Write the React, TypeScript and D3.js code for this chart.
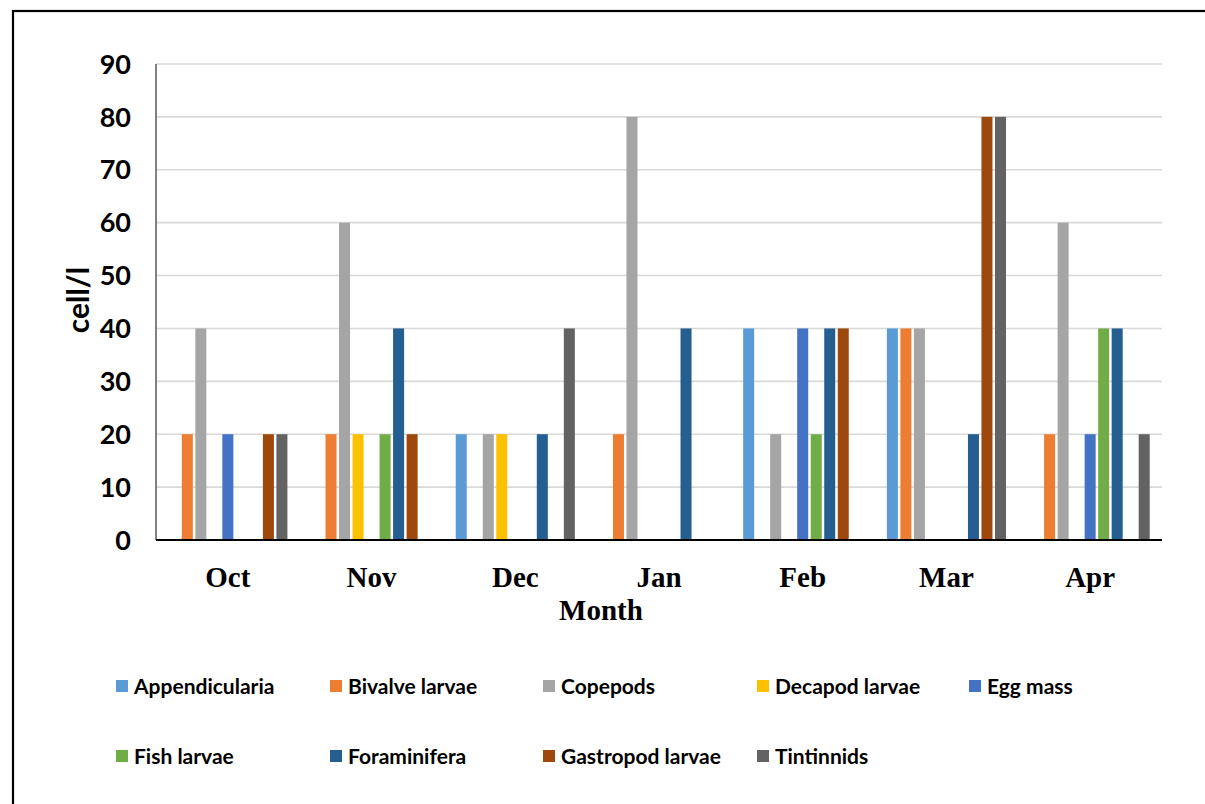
import React from "react";
import * as d3 from "d3";

const months = ["Oct", "Nov", "Dec", "Jan", "Feb", "Mar", "Apr"];
const seriesNames = [
  "Appendicularia",
  "Bivalve larvae",
  "Copepods",
  "Decapod larvae",
  "Egg mass",
  "Fish larvae",
  "Foraminifera",
  "Gastropod larvae",
  "Tintinnids",
];
const seriesColors = [
  "#5B9BD5",
  "#ED7D31",
  "#A5A5A5",
  "#FFC000",
  "#4472C4",
  "#70AD47",
  "#255E91",
  "#9E480E",
  "#636363",
];

// values per month, one array per series (cell/l)
const appendicularia = [0, 0, 20, 0, 40, 40, 0];
const bivalveLarvae = [20, 20, 0, 20, 0, 40, 20];
const copepods = [40, 60, 20, 80, 20, 40, 60];
const decapodLarvae = [0, 20, 20, 0, 0, 0, 0];
const eggMass = [20, 0, 0, 0, 40, 0, 20];
const fishLarvae = [0, 20, 0, 0, 20, 0, 40];
const foraminifera = [0, 40, 20, 40, 40, 20, 40];
const gastropodLarvae = [20, 20, 0, 0, 40, 80, 0];
const tintinnids = [20, 0, 40, 0, 0, 80, 20];

const yTicks = [0, 10, 20, 30, 40, 50, 60, 70, 80, 90];

const seriesValues = [
  appendicularia,
  bivalveLarvae,
  copepods,
  decapodLarvae,
  eggMass,
  fishLarvae,
  foraminifera,
  gastropodLarvae,
  tintinnids,
];

const W = 1205;
const H = 804;
const left = 156;
const right = 1162;
const top = 64;
const bottom = 540;

export default function App() {
  const x0 = d3.scaleBand<string>().domain(months).range([left, right]).paddingInner(0).paddingOuter(0);
  const x1 = d3
    .scaleBand<string>()
    .domain(seriesNames)
    .range([0, x0.bandwidth()])
    .paddingInner(0.185)
    .paddingOuter(0.91);
  const y = d3.scaleLinear().domain([0, 90]).range([bottom, top]);

  const sans = "Lato, 'Open Sans', sans-serif";
  const serif = "'Liberation Serif', 'Times New Roman', serif";

  const legendCols = [116, 330, 543, 757, 969];
  const legendRows = [686, 756];

  return (
    <div style={{ position: "absolute", left: 0, top: 0 }}>
      <svg width={W} height={H} style={{ display: "block", background: "#fff" }}>
        <rect x={0} y={0} width={W} height={H} fill="#fff" />
        {/* outer frame */}
        <rect x={13} y={11} width={1240} height={840} fill="none" stroke="#000" strokeWidth={2.2} />

        {/* gridlines */}
        {yTicks
          .filter((t) => t > 0)
          .map((t) => (
            <line key={t} x1={left} x2={right} y1={y(t)} y2={y(t)} stroke="#D9D9D9" strokeWidth={1.6} />
          ))}

        {/* bars */}
        {months.map((m, mi) => (
          <g key={m} transform={`translate(${x0(m)},0)`}>
            {seriesNames.map((s, si) => {
              const v = seriesValues[si][mi];
              if (!v) return null;
              return (
                <rect
                  key={s}
                  x={x1(s)}
                  y={y(v)}
                  width={x1.bandwidth()}
                  height={y(0) - y(v)}
                  fill={seriesColors[si]}
                />
              );
            })}
          </g>
        ))}

        {/* axes */}
        <line x1={left} x2={left} y1={top} y2={bottom} stroke="#595959" strokeWidth={1.5} />
        <line x1={left} x2={right} y1={bottom} y2={bottom} stroke="#000" strokeWidth={2} />

        {/* y tick labels */}
        {yTicks.map((t) => (
          <text
            key={t}
            x={131}
            y={y(t)}
            dy="0.36em"
            textAnchor="end"
            fontFamily={sans}
            fontWeight={700}
            fontSize={27}
            fill="#000"
          >
            {t}
          </text>
        ))}

        {/* x labels */}
        {months.map((m) => (
          <text
            key={m}
            x={(x0(m) as number) + x0.bandwidth() / 2}
            y={587}
            textAnchor="middle"
            fontFamily={serif}
            fontWeight={700}
            fontSize={29}
            fill="#000"
          >
            {m}
          </text>
        ))}

        {/* axis titles */}
        <text x={601} y={620} textAnchor="middle" fontFamily={serif} fontWeight={700} fontSize={29} fill="#000">
          Month
        </text>
        <text
          transform="translate(89,300) rotate(-90)"
          textAnchor="middle"
          fontFamily={sans}
          fontWeight={700}
          fontSize={30}
          fill="#000"
        >
          cell/l
        </text>

        {/* legend */}
        {seriesNames.map((s, i) => {
          const col = i < 5 ? i : i - 5;
          const row = i < 5 ? 0 : 1;
          const lx = legendCols[col];
          const ly = legendRows[row];
          return (
            <g key={s}>
              <rect x={lx} y={ly - 6} width={12} height={12} fill={seriesColors[i]} />
              <text
                x={lx + 18}
                y={ly}
                dy="0.36em"
                fontFamily={sans}
                fontWeight={700}
                fontSize={21}
                fill="#000"
              >
                {s}
              </text>
            </g>
          );
        })}
      </svg>
    </div>
  );
}
